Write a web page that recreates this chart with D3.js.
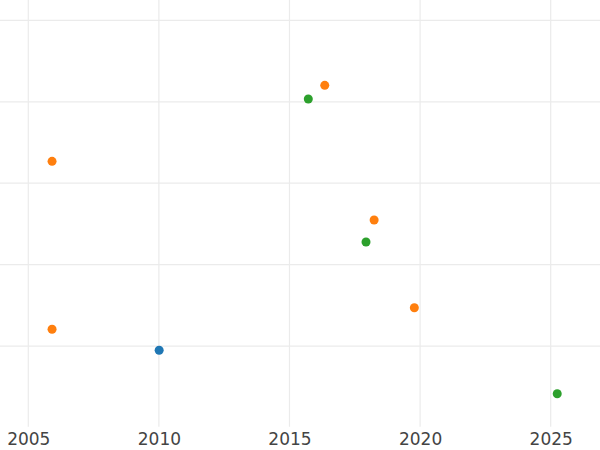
<!DOCTYPE html>
<html>
<head>
<meta charset="utf-8">
<script src="https://cdn.jsdelivr.net/npm/d3@7"></script>
<style>
  html, body { margin: 0; padding: 0; background: #fff; }
  svg { display: block; }
</style>
</head>
<body>
<svg id="chart" width="600" height="450"></svg>
<script>
// ---- data ----
const xTicks = [2005, 2010, 2015, 2020, 2025];
const yTicks = [10, 20, 30, 40, 50];

const blueX = [2010.01];
const blueY = [9.48];

const orangeX = [2005.91, 2005.91, 2016.35, 2018.24, 2019.78];
const orangeY = [32.69, 12.06, 42.02, 25.48, 14.71];

const greenX = [2015.72, 2017.93, 2025.25];
const greenY = [40.34, 22.78, 4.15];

const seriesColors = ["#1f77b4", "#ff7f0e", "#2ca02c"];

// ---- layout ----
const W = 600, plotH = 426.7;
const svg = d3.select("#chart");

const x = d3.scaleLinear().domain([2003.917, 2026.888]).range([0, W]);
const y = d3.scaleLinear().domain([0, 52.5]).range([427.5, 0]);

// gridlines
const grid = svg.append("g");
grid.selectAll("line.h").data(yTicks).enter().append("line")
  .attr("x1", 0).attr("x2", W)
  .attr("y1", d => y(d)).attr("y2", d => y(d))
  .attr("stroke", "#ebebeb").attr("stroke-width", 1.2);
grid.selectAll("line.v").data(xTicks).enter().append("line")
  .attr("x1", d => x(d)).attr("x2", d => x(d))
  .attr("y1", 0).attr("y2", plotH)
  .attr("stroke", "#ebebeb").attr("stroke-width", 1.2);

// x axis labels
const xAxis = d3.axisBottom(x).tickValues(xTicks).tickFormat(d3.format("d")).tickSize(0).tickPadding(0);
const ax = svg.append("g").attr("transform", `translate(0,${plotH})`).call(xAxis);
ax.select(".domain").remove();
ax.selectAll("text")
  .attr("y", 0).attr("dy", "18.5px")
  .attr("font-family", "DejaVu Sans")
  .attr("font-size", "17px")
  .attr("fill", "#444");

// points
const series = [
  {xs: blueX, ys: blueY},
  {xs: orangeX, ys: orangeY},
  {xs: greenX, ys: greenY}
];
series.forEach((s, i) => {
  svg.append("g").selectAll("circle")
    .data(s.xs.map((v, j) => [v, s.ys[j]]))
    .enter().append("circle")
    .attr("cx", d => x(d[0]))
    .attr("cy", d => y(d[1]))
    .attr("r", 4.5)
    .attr("fill", seriesColors[i]);
});
</script>
</body>
</html>
